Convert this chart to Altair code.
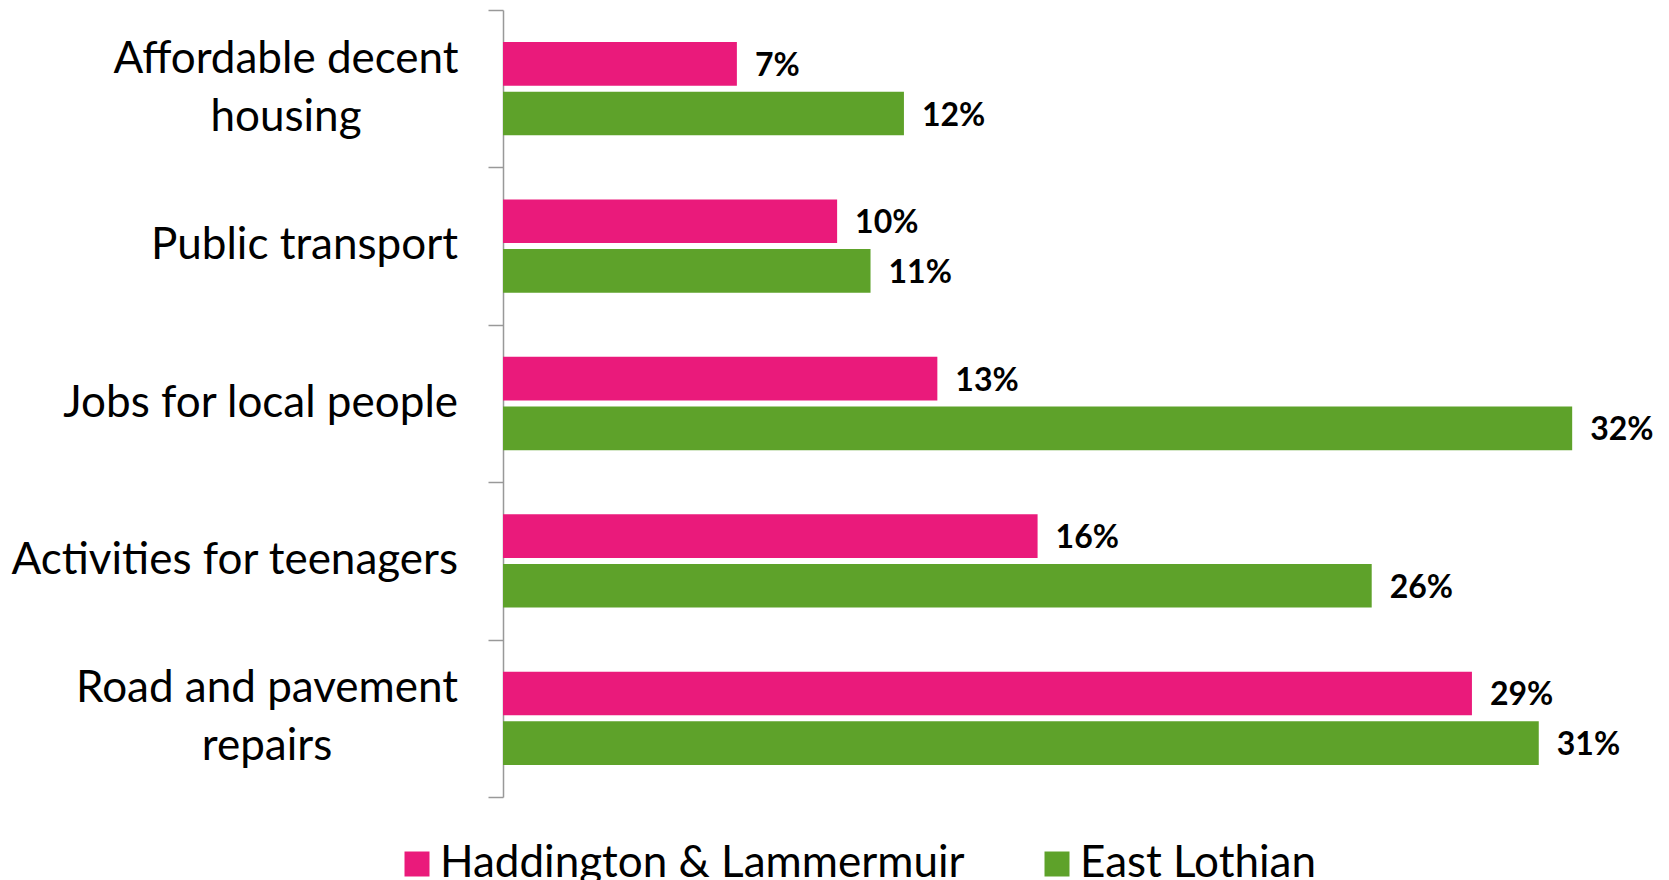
import altair as alt
import pandas as pd

categories = [
    "Affordable decent\nhousing",
    "Public transport",
    "Jobs for local people",
    "Activities for teenagers",
    "Road and pavement\nrepairs",
]
series = ["Haddington & Lammermuir", "East Lothian"]
haddington = [7, 10, 13, 16, 29]
east_lothian = [12, 11, 32, 26, 31]
colors = ["#EA1A7B", "#5EA22A"]

rows = []
for c, h, e in zip(categories, haddington, east_lothian):
    rows.append({"category": c, "series": series[0], "value": h})
    rows.append({"category": c, "series": series[1], "value": e})
df = pd.DataFrame(rows)
cat_df = pd.DataFrame({"category": categories})

FONT = "Lato"
MULTI = "indexof(datum.category, '\\n') >= 0"

y_scale = alt.Scale(paddingInner=0, paddingOuter=0)
y_axis = alt.Axis(
    title=None,
    labels=False,
    tickBand="extent",
    tickSize=15,
    tickColor="#999999",
    tickWidth=1.5,
    domainColor="#999999",
    domainWidth=1.5,
)
y_enc = alt.Y("category:N", sort=categories, scale=y_scale, axis=y_axis)
yoff_enc = alt.YOffset(
    "series:N",
    sort=series,
    scale=alt.Scale(paddingInner=0.121, paddingOuter=0.646),
)
x_enc = alt.X("value:Q", scale=alt.Scale(domain=[0, 34]), axis=None)

base = alt.Chart(df)

bars = base.mark_bar().encode(
    x=x_enc,
    y=y_enc,
    yOffset=yoff_enc,
    color=alt.Color(
        "series:N",
        sort=series,
        scale=alt.Scale(domain=series, range=colors),
        legend=alt.Legend(
            title=None,
            orient="none",
            legendX=-108,
            legendY=832,
            direction="horizontal",
            symbolType="square",
            symbolSize=625,
            symbolStrokeWidth=0,
            labelFont=FONT,
            labelFontSize=44,
            labelColor="black",
            labelOffset=1,
            labelLimit=0,
            columnPadding=70,
        ),
    ),
)

values = base.mark_text(
    align="left", baseline="middle", dx=18, dy=2, fontSize=32, fontWeight="bold", font=FONT, color="black"
).transform_calculate(label="datum.value + '%'").encode(
    x=x_enc,
    y=y_enc,
    yOffset=yoff_enc,
    text="label:N",
)

cat_labels = (
    alt.Chart(cat_df)
    .mark_text(
        font=FONT,
        fontSize=44,
        color="black",
        lineHeight=58,
        align=alt.ExprRef(f"{MULTI} ? 'center' : 'right'"),
        baseline=alt.ExprRef(f"{MULTI} ? 'line-bottom' : 'middle'"),
        dx=alt.ExprRef(
            "indexof(datum.category, 'housing') >= 0 ? -172 : "
            "indexof(datum.category, 'repairs') >= 0 ? -191 : 0"
        ),
    )
    .transform_calculate(lines="split(datum.category, '\\n')")
    .encode(
        y=alt.Y("category:N", sort=categories, scale=y_scale, axis=y_axis),
        x=alt.value(-45),
        text="lines:N",
    )
)

chart = (
    alt.layer(bars, values, cat_labels)
    .properties(
        width=1136,
        height=787,
        autosize=alt.AutoSizeParams(type="none"),
        padding={"left": 495, "top": 2, "right": 20, "bottom": 84},
    )
    .configure_view(stroke=None)
)

chart.save("out.html", embed_options={"renderer": "svg", "actions": False})
